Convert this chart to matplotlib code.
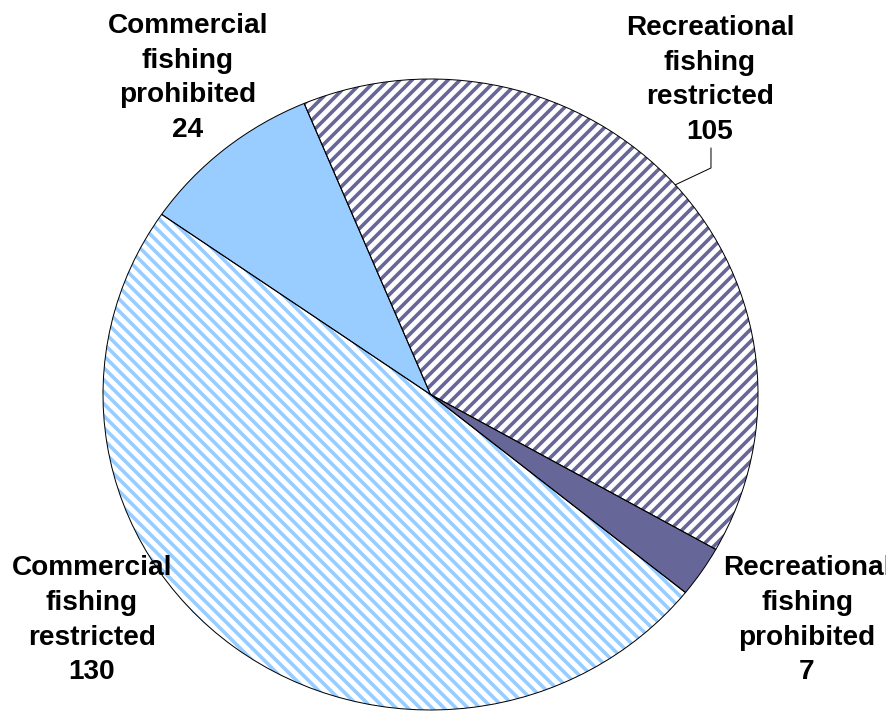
import matplotlib
matplotlib.use('Agg')
import matplotlib.pyplot as plt
import numpy as np

labels = ['Commercial\nfishing\nprohibited', 'Commercial\nfishing\nrestricted',
          'Recreational\nfishing\nprohibited', 'Recreational\nfishing\nrestricted']
values = [24, 130, 7, 105]

face_colors = ['#99CCFF', 'white', '#666699', 'white']
stripe_colors = ['#99CCFF', '#99CCFF', '#666699', '#666699']
hatches = [None, '\\\\', None, '//']

# at 72 dpi one point is one pixel and the hatch tile is 72 px,
# so two hatch marks give the ~12 px stripe period of the original
dpi = 72

plt.rcParams['font.family'] = ['Liberation Sans', 'DejaVu Sans']
plt.rcParams['hatch.linewidth'] = 3.6

fig = plt.figure(figsize=(886 / dpi, 711 / dpi), dpi=dpi)
ax = fig.add_axes([0, 0, 1, 1])

start = 112.7
wedges, _ = ax.pie(values, startangle=start, counterclock=True, colors=face_colors,
                   wedgeprops=dict(linewidth=0))
for w, ec, h in zip(wedges, stripe_colors, hatches):
    w.set_edgecolor(ec)
    if h:
        w.set_hatch(h)

# black outlines on top
ax.pie(values, startangle=start, counterclock=True, colors=['none'] * 4,
       wedgeprops=dict(edgecolor='black', linewidth=1.0))

# the pie in the reference is a bit wider than tall
ax.set_aspect('auto')
ax.set_xlim(-1.3145, 1.3908)
ax.set_ylim(-1.0032, 1.2504)
ax.axis('off')

# label anchors (top centre of each text block)
label_pos = [(-0.7405, 1.2092), (-1.0336, -0.5103), (1.1496, -0.5103), (0.8534, 1.2029)]
for lab, v, (x, y) in zip(labels, values, label_pos):
    ax.text(x, y, f'{lab}\n{v}', ha='center', va='top', fontsize=28,
            fontweight='bold', linespacing=1.43, color='black', clip_on=False)

# leader line for the recreational restricted slice
w = wedges[3]
mid = np.deg2rad((w.theta1 + w.theta2) / 2)
ex, ey = np.cos(mid), np.sin(mid)
ax.plot([label_pos[3][0] + 0.003, label_pos[3][0] + 0.003, ex],
        [0.781, 0.718, ey], color='black', linewidth=1.0)

fig.savefig('out.png', dpi=dpi)
